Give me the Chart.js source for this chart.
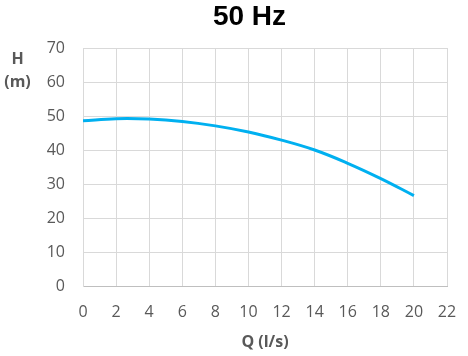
<!DOCTYPE html>
<html>
<head>
<meta charset="utf-8">
<script src="https://cdn.jsdelivr.net/npm/chart.js@4/dist/chart.umd.min.js"></script>
<style>
html,body{margin:0;padding:0;background:#fff;}
#wrap{width:468px;height:356px;}
</style>
</head>
<body>
<div id="wrap"><canvas id="c" width="468" height="356"></canvas></div>
<script>
const chartTitle = "50 Hz";
const xAxisTitle = "Q (l/s)";
const yAxisTitleLines = ["H", "(m)"];
const flowQ = [0, 2, 4, 6, 8, 10, 12, 14, 16, 18, 20];
const headH = [48.6, 49.2, 49.1, 48.4, 47.1, 45.3, 42.9, 40.0, 36.1, 31.6, 26.6];
const xTicks = [0, 2, 4, 6, 8, 10, 12, 14, 16, 18, 20, 22];
const yTicks = [0, 10, 20, 30, 40, 50, 60, 70];

const tickFont = {family: "'Open Sans', sans-serif", size: 16};
const tickColor = "#595959";

const textPlugin = {
  id: 'extraText',
  afterDraw(chart) {
    const ctx = chart.ctx;
    const top = chart.chartArea.top;
    ctx.save();
    ctx.textAlign = 'center';
    ctx.textBaseline = 'middle';
    ctx.fillStyle = '#000';
    ctx.font = "bold 28px 'Liberation Sans', Arial, sans-serif";
    ctx.fillText(chartTitle, 249.5, 17);
    ctx.font = "bold 16px 'Open Sans', sans-serif";
    ctx.fillStyle = tickColor;
    ctx.fillText(yAxisTitleLines[0], 17.5, top + 11.5);
    ctx.fillText(yAxisTitleLines[1], 17.5, top + 34);
    ctx.restore();
  }
};

new Chart(document.getElementById('c'), {
  type: 'scatter',
  data: {
    datasets: [{
      data: flowQ.map((q, i) => ({x: q, y: headH[i]})),
      showLine: true,
      borderColor: '#00B0F0',
      borderWidth: 3,
      pointRadius: 0,
      tension: 0.4,
      fill: false
    }]
  },
  options: {
    responsive: false,
    animation: false,
    devicePixelRatio: 1,
    layout: {padding: {left: 0, right: 21, top: 48, bottom: 0}},
    plugins: {
      legend: {display: false},
      tooltip: {enabled: false},
      title: {display: false}
    },
    scales: {
      x: {
        type: 'linear',
        min: 0, max: 22,
        afterBuildTicks: (s) => { s.ticks = xTicks.map(v => ({value: v})); },
        afterFit: (s) => { s.height = 70; s.paddingLeft = 0; s.paddingRight = 0; },
        ticks: {color: tickColor, font: tickFont, padding: 16.4, maxRotation: 0, autoSkip: false},
        grid: {color: '#d9d9d9', lineWidth: 1, drawTicks: false},
        border: {color: '#bfbfbf', width: 1},
        title: {
          display: true, text: xAxisTitle, color: tickColor,
          font: {family: "'Open Sans', sans-serif", size: 16, weight: 'bold'},
          padding: {top: 10.8, bottom: 4.4}
        }
      },
      y: {
        type: 'linear',
        min: 0, max: 70,
        afterBuildTicks: (s) => { s.ticks = yTicks.map(v => ({value: v})); },
        afterFit: (s) => { s.width = 83; s.paddingTop = 0; s.paddingBottom = 0; },
        ticks: {color: tickColor, font: tickFont, padding: 18},
        grid: {color: '#d9d9d9', lineWidth: 1, drawTicks: false},
        border: {color: '#d9d9d9', width: 1}
      }
    }
  },
  plugins: [textPlugin]
});
</script>
</body>
</html>
